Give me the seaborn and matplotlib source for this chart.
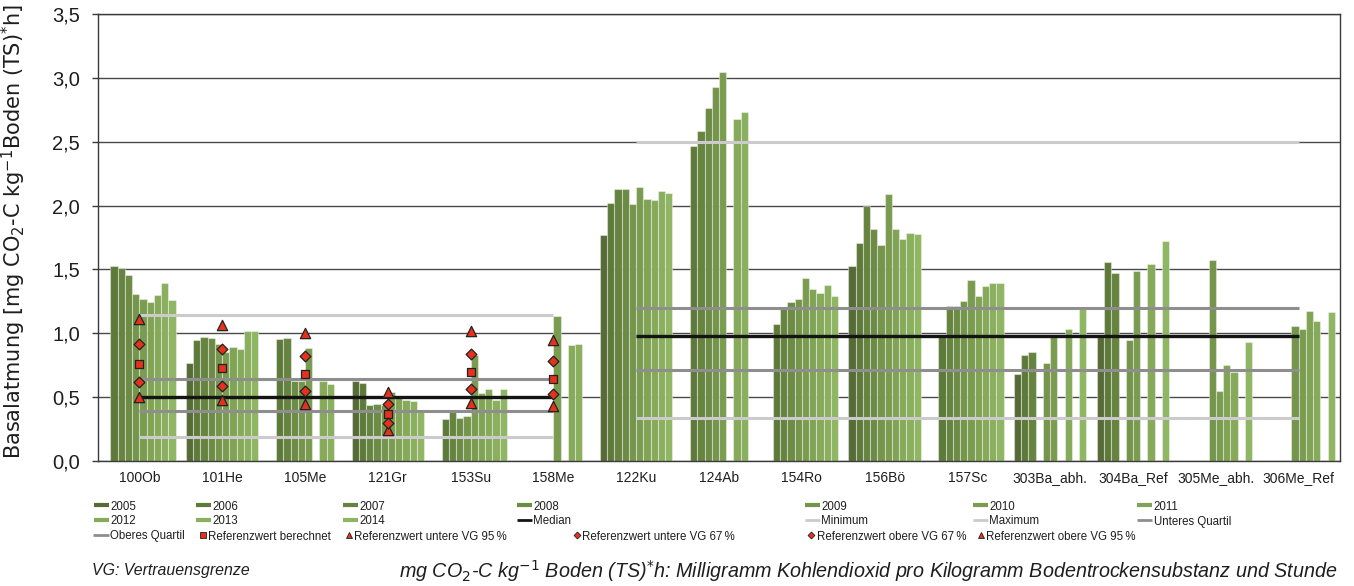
import matplotlib
matplotlib.use("Agg")
import matplotlib.pyplot as plt
from matplotlib.lines import Line2D
from matplotlib.ticker import FixedLocator, FuncFormatter
import pandas as pd
import seaborn as sns

# ---------------------------------------------------------------- data
sites = ["100Ob", "101He", "105Me", "121Gr", "153Su", "158Me",
         "122Ku", "124Ab", "154Ro", "156Bö", "157Sc",
         "303Ba_abh.", "304Ba_Ref", "305Me_abh.", "306Me_Ref"]
years = ["2005", "2006", "2007", "2008", "2009",
         "2010", "2011", "2012", "2013", "2014"]

# Basalatmung per year, one value per site (None = no measurement)
v2005 = [None, 0.77, None, 0.63, None, None, 1.77, None, None, 1.53, None, 0.683, 0.97, None, None]
v2006 = [1.53, 0.95, 0.955, 0.61, 0.33, None, 2.02, 2.47, 1.07, 1.71, 0.98, 0.83, 1.56, None, None]
v2007 = [1.51, 0.97, 0.965, 0.435, 0.38, None, 2.13, 2.585, 1.20, 2.00, 1.215, 0.856, 1.475, None, None]
v2008 = [1.46, 0.965, 0.63, 0.445, 0.34, None, 2.13, 2.765, 1.245, 1.82, 1.215, None, None, None, None]
v2009 = [1.31, 0.92, 0.625, 0.435, 0.35, None, 2.015, 2.93, 1.265, 1.69, 1.25, 0.77, 0.95, 1.573, 1.058]
v2010 = [1.27, 0.855, 0.885, 0.54, 0.83, 1.135, 2.145, 3.045, 1.435, 2.09, 1.42, 0.976, 1.487, 0.545, 1.03]
v2011 = [1.245, 0.895, None, 0.51, 0.53, None, 2.05, None, 1.345, 1.82, 1.29, None, None, 0.754, 1.178]
v2012 = [1.30, 0.875, 0.63, 0.48, 0.565, 0.905, 2.04, 2.68, 1.315, 1.735, 1.37, 1.035, 1.54, 0.70, 1.097]
v2013 = [1.395, 1.015, 0.605, 0.47, 0.48, 0.92, 2.115, 2.73, 1.375, 1.785, 1.395, None, None, None, None]
v2014 = [1.26, 1.02, None, 0.385, 0.56, None, 2.10, None, 1.295, 1.78, 1.395, 1.19, 1.72, 0.935, 1.168]
year_values = [v2005, v2006, v2007, v2008, v2009, v2010, v2011, v2012, v2013, v2014]

# summary statistics for the two site groups (first site, last site)
stat_groups = [("100Ob", "158Me"), ("122Ku", "306Me_Ref")]
minimum = [0.185, 0.335]
lower_quartile = [0.39, 0.71]
median = [0.50, 0.98]
upper_quartile = [0.64, 1.20]
maximum = [1.14, 2.50]

# reference values with confidence limits
ref_sites = ["100Ob", "101He", "105Me", "121Gr", "153Su", "158Me"]
ref_calc = [0.76, 0.725, 0.68, 0.37, 0.695, 0.645]
ref_low95 = [0.50, 0.475, 0.45, 0.24, 0.455, 0.43]
ref_low67 = [0.615, 0.59, 0.55, 0.30, 0.56, 0.525]
ref_high67 = [0.915, 0.875, 0.82, 0.445, 0.84, 0.785]
ref_high95 = [1.115, 1.065, 1.00, 0.54, 1.02, 0.95]

# ---------------------------------------------------------------- style
year_colors = ["#566b36", "#5e7a3b", "#668440", "#6c8b45", "#74954b",
               "#7a9c50", "#80a355", "#86aa5a", "#8aaf5e", "#8fb663"]
c_median = "#141414"
c_quart = "#8e8e8e"
c_minmax = "#cbcbcb"
c_ref = "#e5321d"
c_text = "#1e1e1e"

sns.set_style("white")
plt.rcParams["font.family"] = ["Liberation Sans", "DejaVu Sans"]
plt.rcParams["mathtext.fontset"] = "custom"
plt.rcParams["mathtext.rm"] = "DejaVu Sans"
plt.rcParams["mathtext.it"] = "Liberation Sans:italic"

W, H = 1354, 586
fig = plt.figure(figsize=(W / 100, H / 100), dpi=100)
ax = fig.add_axes([98 / W, 1 - 461 / H, (1340 - 98) / W, (461 - 14) / H])

# ---------------------------------------------------------------- bars
rows = []
for yr, vals in zip(years, year_values):
    for site, v in zip(sites, vals):
        if v is not None:
            rows.append({"site": site, "year": yr, "value": v})
df = pd.DataFrame(rows)

sns.barplot(data=df, x="site", y="value", hue="year", order=sites,
            hue_order=years, palette=year_colors, width=0.875, gap=0,
            saturation=1, errorbar=None, legend=False,
            edgecolor=(1, 1, 1, 0.4), linewidth=0.8, ax=ax, zorder=2)

# ---------------------------------------------------------------- statistic lines
for i, (a, b) in enumerate(stat_groups):
    x0, x1 = sites.index(a), sites.index(b)
    ax.hlines(minimum[i], x0, x1, color=c_minmax, lw=2.2, zorder=3)
    ax.hlines(maximum[i], x0, x1, color=c_minmax, lw=2.2, zorder=3)
    ax.hlines(lower_quartile[i], x0, x1, color=c_quart, lw=2.2, zorder=3)
    ax.hlines(upper_quartile[i], x0, x1, color=c_quart, lw=2.2, zorder=3)
    ax.hlines(median[i], x0, x1, color=c_median, lw=2.4, zorder=3)

# ---------------------------------------------------------------- reference markers
rx = [sites.index(s) for s in ref_sites]
mk = dict(color=c_ref, edgecolor="#222222", linewidths=0.9, zorder=4)
ax.scatter(rx, ref_calc, marker="s", s=38, **mk)
ax.scatter(rx, ref_low95, marker="^", s=55, **mk)
ax.scatter(rx, ref_high95, marker="^", s=55, **mk)
ax.scatter(rx, ref_low67, marker="D", s=30, **mk)
ax.scatter(rx, ref_high67, marker="D", s=30, **mk)

# ---------------------------------------------------------------- axes
ax.set_xlim(-0.5, len(sites) - 0.5)
ax.set_ylim(0, 3.5)
ax.yaxis.set_major_locator(FixedLocator([i * 0.5 for i in range(8)]))
ax.yaxis.set_major_formatter(FuncFormatter(lambda v, p: f"{v:.1f}".replace(".", ",")))
ax.grid(axis="y", color="#4a4a4a", lw=1.0, zorder=0)
ax.grid(axis="x", visible=False)
ax.set_axisbelow(True)
for sp in ax.spines.values():
    sp.set_color("#3a3a3a")
    sp.set_linewidth(1.0)

ax.set_xticks(range(len(sites)))
ax.set_xticklabels(sites)
ax.set_xticks([i - 0.5 for i in range(len(sites) + 1)], minor=True)
ax.tick_params(axis="x", which="major", length=0, pad=7, labelsize=10, labelcolor=c_text)
ax.tick_params(axis="x", which="minor", length=4, width=1, color="#3a3a3a", direction="out")
ax.tick_params(axis="y", length=4, width=1, color="#3a3a3a", pad=9, labelsize=14.5,
               labelcolor=c_text, left=True)
ax.set_xlabel("")
ax.set_ylabel("Basalatmung [mg CO$_2$-C kg$^{-1}$Boden (TS)$^{*}$h]", fontsize=15,
              family=["DejaVu Sans"], color=c_text)
ax.yaxis.set_label_coords((28 - 98) / 1242, (461 - 231.5) / 447)

# ---------------------------------------------------------------- legend
FS = 8.3
EM = FS * 100 / 72


def entry(handle, label, x0, y, hl_px):
    fig.legend([handle], [label], loc="center left",
               bbox_to_anchor=(x0 / W, 1 - y / H), frameon=False,
               borderpad=0, borderaxespad=0, handlelength=hl_px / EM,
               handletextpad=1.5 / EM, fontsize=FS, labelcolor=c_text)


def bar_handle(c):
    return Line2D([], [], color=c, lw=3.0, solid_capstyle="butt")


def line_handle(c):
    return Line2D([], [], color=c, lw=2.0, solid_capstyle="butt")


def marker_handle(m, ms):
    return Line2D([], [], ls="none", marker=m, ms=ms, color=c_ref,
                  markeredgecolor="#222222", markeredgewidth=0.6)


col_x = [94, 196, 343, 517, 805, 973, 1137]
ry = [506.5, 521.5, 536.5]
for i in range(7):
    entry(bar_handle(year_colors[i]), years[i], col_x[i], ry[0], 15)
for i in range(3):
    entry(bar_handle(year_colors[7 + i]), years[7 + i], col_x[i], ry[1], 15)
entry(line_handle(c_median), "Median", col_x[3], ry[1], 15)
entry(line_handle(c_minmax), "Minimum", col_x[4], ry[1], 15)
entry(line_handle(c_minmax), "Maximum", col_x[5], ry[1], 15)
entry(line_handle(c_quart), "Unteres Quartil", col_x[6], ry[1], 15)
entry(line_handle(c_quart), "Oberes Quartil", 93, ry[2], 16)
entry(marker_handle("s", 4), "Referenzwert berechnet", 199, ry[2], 8)
entry(marker_handle("^", 4.5), "Referenzwert untere VG 95\u2009%", 345, ry[2], 8)
entry(marker_handle("D", 3.5), "Referenzwert untere VG 67\u2009%", 573, ry[2], 8)
entry(marker_handle("D", 3.5), "Referenzwert obere VG 67\u2009%", 807, ry[2], 8)
entry(marker_handle("^", 4.5), "Referenzwert obere VG 95\u2009%", 977, ry[2], 8)

# ---------------------------------------------------------------- footnotes
fig.text(92 / W, 1 - 571 / H, "VG: Vertrauensgrenze", style="italic",
         va="center", ha="left", color=c_text, fontsize=11.4)
fig.text(1338 / W, 1 - 571 / H,
         "mg CO$_{\\mathit{2}}$-C kg$^{\\mathit{-1}}$ Boden (TS)$^{\\mathit{*}}$h: "
         "Milligramm Kohlendioxid pro Kilogramm Bodentrockensubstanz und Stunde",
         style="italic", va="center", ha="right", color=c_text, fontsize=14.2)

fig.savefig("out.png", dpi=100)
